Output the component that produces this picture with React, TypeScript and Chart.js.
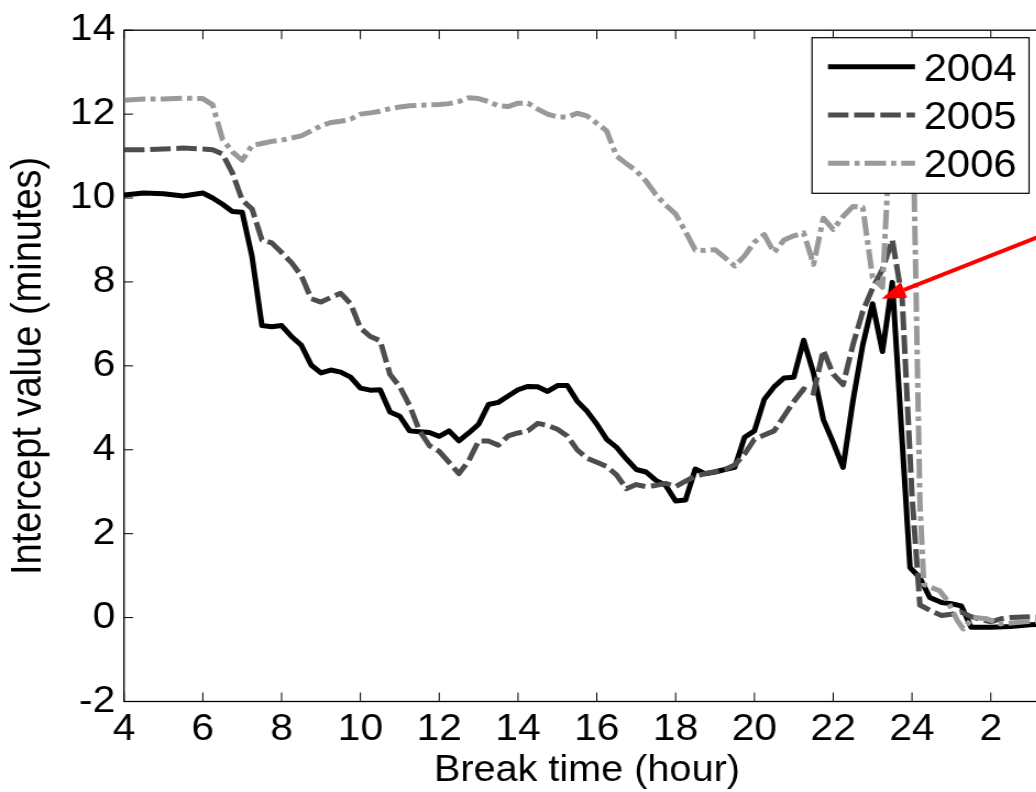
import React, { useEffect, useRef } from 'react';
import { Chart, registerables } from 'chart.js';

Chart.register(...registerables);

// ---- data ----
const HOURS_2004 = [
  4, 4.5, 5, 5.5, 6, 6.25, 6.5, 6.75, 7, 7.25,
  7.5, 7.75, 8, 8.25, 8.5, 8.75, 9, 9.25, 9.5, 9.75,
  10, 10.25, 10.5, 10.75, 11, 11.25, 11.5, 11.75, 12, 12.25,
  12.5, 12.75, 13, 13.25, 13.5, 13.75, 14, 14.25, 14.5, 14.75,
  15, 15.25, 15.5, 15.75, 16, 16.25, 16.5, 16.75, 17, 17.25,
  17.5, 17.75, 18, 18.25, 18.5, 18.75, 19, 19.25, 19.5, 19.75,
  20, 20.25, 20.5, 20.75, 21, 21.25, 21.5, 21.75, 22, 22.25,
  22.5, 22.75, 23, 23.25, 23.5, 23.95, 24.2, 24.45, 24.75, 25,
  25.25, 25.5, 25.75, 26, 26.5, 27, 27.5,
];
const VALUES_2004 = [
  10.07, 10.12, 10.1, 10.05, 10.12, 10.0, 9.85, 9.68, 9.66, 8.6,
  6.96, 6.93, 6.96, 6.7, 6.49, 6.02, 5.83, 5.9, 5.85, 5.73,
  5.47, 5.42, 5.43, 4.9, 4.8, 4.45, 4.43, 4.41, 4.32, 4.45,
  4.21, 4.4, 4.61, 5.08, 5.13, 5.28, 5.43, 5.51, 5.5, 5.39,
  5.53, 5.53, 5.16, 4.92, 4.61, 4.25, 4.06, 3.78, 3.53, 3.47,
  3.27, 3.15, 2.78, 2.8, 3.54, 3.43, 3.47, 3.53, 3.58, 4.3,
  4.45, 5.2, 5.5, 5.71, 5.73, 6.61, 5.83, 4.72, 4.17, 3.58,
  5.16, 6.5, 7.48, 6.34, 7.99, 1.19, 0.95, 0.48, 0.36, 0.33,
  0.28, -0.23, -0.23, -0.23, -0.21, -0.17, -0.15,
];

const HOURS_2005 = [
  4, 4.5, 5, 5.5, 6, 6.25, 6.5, 6.75, 7, 7.25,
  7.5, 7.75, 8, 8.25, 8.5, 8.75, 9, 9.25, 9.5, 9.75,
  10, 10.25, 10.5, 10.75, 11, 11.25, 11.5, 11.75, 12, 12.25,
  12.5, 12.75, 13, 13.25, 13.5, 13.75, 14, 14.25, 14.5, 14.75,
  15, 15.25, 15.5, 15.75, 16, 16.25, 16.5, 16.75, 17, 17.25,
  17.5, 17.75, 18, 18.25, 18.5, 18.75, 19, 19.25, 19.5, 19.75,
  20, 20.25, 20.5, 20.75, 21, 21.25, 21.5, 21.75, 22, 22.25,
  22.5, 22.75, 23, 23.25, 23.5, 23.75, 24, 24.2, 24.5, 24.75,
  25, 25.25, 25.5, 25.75, 26, 26.25, 26.5, 27, 27.5,
];
const VALUES_2005 = [
  11.15, 11.15, 11.17, 11.19, 11.17, 11.15, 11.05, 10.6, 9.95, 9.74,
  9.0, 8.93, 8.7, 8.46, 8.15, 7.6, 7.52, 7.63, 7.73, 7.48,
  6.9, 6.7, 6.6, 5.8, 5.5, 5.05, 4.45, 4.1, 3.96, 3.7,
  3.43, 3.74, 4.21, 4.21, 4.11, 4.33, 4.4, 4.45, 4.63, 4.58,
  4.49, 4.33, 4.0, 3.8, 3.7, 3.6, 3.4, 3.07, 3.17, 3.12,
  3.15, 3.2, 3.12, 3.25, 3.37, 3.43, 3.48, 3.53, 3.64, 3.9,
  4.25, 4.35, 4.45, 4.8, 5.15, 5.45, 5.35, 6.37, 5.8, 5.55,
  6.5, 7.3, 7.85, 8.3, 9.0, 7.6, 2.9, 0.3, 0.15, 0.05,
  0.08, 0.13, 0.02, -0.05, -0.1, -0.03, 0.0, 0.02, 0.02,
];

const HOURS_2006 = [
  4, 4.5, 5, 5.5, 6, 6.25, 6.5, 6.75, 7, 7.25,
  7.5, 7.75, 8, 8.25, 8.5, 8.75, 9, 9.25, 9.5, 9.75,
  10, 10.25, 10.5, 10.75, 11, 11.25, 11.5, 11.75, 12, 12.25,
  12.5, 12.75, 13, 13.25, 13.5, 13.75, 14, 14.25, 14.5, 14.75,
  15, 15.25, 15.5, 15.75, 16, 16.25, 16.5, 16.75, 17, 17.25,
  17.5, 17.75, 18, 18.25, 18.5, 18.75, 19, 19.25, 19.5, 19.75,
  20, 20.25, 20.5, 20.75, 21, 21.25, 21.5, 21.75, 22, 22.25,
  22.5, 22.75, 23, 23.25, 23.5, 23.75, 24, 24.2, 24.3, 24.7,
  24.9, 25.15, 25.3, 25.55, 25.9, 26.25, 27, 27.5,
];
const VALUES_2006 = [
  12.33, 12.36, 12.36, 12.38, 12.37, 12.22, 11.4, 11.1, 10.9, 11.25,
  11.3, 11.35, 11.38, 11.43, 11.48, 11.6, 11.72, 11.8, 11.83, 11.88,
  12.0, 12.03, 12.07, 12.13, 12.17, 12.2, 12.21, 12.22, 12.23, 12.25,
  12.3, 12.39, 12.37, 12.3, 12.2, 12.18, 12.26, 12.26, 12.12, 12.0,
  11.93, 11.93, 12.02, 11.96, 11.78, 11.6, 11.0, 10.82, 10.65, 10.4,
  10.08, 9.83, 9.62, 9.2, 8.76, 8.75, 8.77, 8.58, 8.38, 8.62,
  8.95, 9.13, 8.7, 9.0, 9.1, 9.17, 8.42, 9.52, 9.25, 9.56,
  9.8, 9.78, 8.1, 7.87, 12.5, 13.2, 13.0, 2.76, 0.79, 0.64,
  0.4, -0.07, -0.27, 0.0, -0.03, -0.15, -0.09, -0.08,
];

const SERIES_LABELS = ['2004', '2005', '2006'];
const X_TICKS = [4, 6, 8, 10, 12, 14, 16, 18, 20, 22, 24, 26];
const X_TICK_LABELS = ['4', '6', '8', '10', '12', '14', '16', '18', '20', '22', '24', '2'];
const Y_TICKS = [-2, 0, 2, 4, 6, 8, 10, 12, 14];
const Y_TICK_LABELS = ['-2', '0', '2', '4', '6', '8', '10', '12', '14'];
const X_TITLE = 'Break time (hour)';
const Y_TITLE = 'Intercept value (minutes)';
const ARROW_TIP = { x: 23.23, y: 7.6 };
const ARROW_TAIL = { x: 28.3, y: 9.48 };

// ---- drawing setup ----
const S = 1.1; // horizontal stretch of the reference picture
const CANVAS_W = 1000;
const CANVAS_H = 792;
const FONT = '"Liberation Sans", Arial, Helvetica, sans-serif';

const toPoints = (xs: number[], ys: number[]) => xs.map((x, i) => ({ x, y: ys[i] }));

const framePlugin = {
  id: 'matlabFrame',
  beforeDatasetsDraw(chart: any) {
    const { ctx, chartArea: a, scales } = chart;
    const x = scales.x;
    const y = scales.y;
    ctx.save();
    ctx.strokeStyle = '#000';
    ctx.lineWidth = 1;
    ctx.beginPath();
    for (const t of x.ticks) {
      const px = x.getPixelForValue(t.value);
      ctx.moveTo(px, a.bottom);
      ctx.lineTo(px, a.bottom - 9);
      ctx.moveTo(px, a.top);
      ctx.lineTo(px, a.top + 9);
    }
    for (const t of y.ticks) {
      const py = y.getPixelForValue(t.value);
      ctx.moveTo(a.left, py);
      ctx.lineTo(a.left + 9 / S, py);
      ctx.moveTo(a.right, py);
      ctx.lineTo(a.right - 9 / S, py);
    }
    ctx.stroke();
    ctx.lineWidth = 1.3;
    ctx.strokeRect(a.left, a.top, a.right - a.left, a.bottom - a.top);
    ctx.restore();
  },
};

const arrowPlugin = {
  id: 'redArrow',
  afterDraw(chart: any) {
    const { ctx, scales } = chart;
    const x = scales.x;
    const y = scales.y;
    const tx = x.getPixelForValue(ARROW_TIP.x) * S;
    const ty = y.getPixelForValue(ARROW_TIP.y);
    const sx = x.getPixelForValue(ARROW_TAIL.x) * S;
    const sy = y.getPixelForValue(ARROW_TAIL.y);
    ctx.save();
    ctx.scale(1 / S, 1);
    const ang = Math.atan2(ty - sy, tx - sx);
    const headLen = 24;
    const headHalf = 8.5;
    const bx = tx - headLen * Math.cos(ang);
    const by = ty - headLen * Math.sin(ang);
    ctx.strokeStyle = '#ff0000';
    ctx.lineWidth = 4;
    ctx.beginPath();
    ctx.moveTo(sx, sy);
    ctx.lineTo(bx, by);
    ctx.stroke();
    ctx.fillStyle = '#ff0000';
    ctx.beginPath();
    ctx.moveTo(tx, ty);
    ctx.lineTo(bx + headHalf * Math.sin(ang), by - headHalf * Math.cos(ang));
    ctx.lineTo(bx - headHalf * Math.sin(ang), by + headHalf * Math.cos(ang));
    ctx.closePath();
    ctx.fill();
    ctx.restore();
  },
};

const legendPlugin = {
  id: 'matlabLegend',
  afterDraw(chart: any) {
    const { ctx, chartArea: a } = chart;
    const right = a.right - 18.95;
    const left = right - 197.3;
    const top = 37.7;
    const bottom = 193.3;
    ctx.save();
    ctx.fillStyle = '#fff';
    ctx.fillRect(left, top, right - left, bottom - top);
    ctx.strokeStyle = '#000';
    ctx.lineWidth = 1.2;
    ctx.strokeRect(left, top, right - left, bottom - top);
    chart.data.datasets.forEach((ds: any, i: number) => {
      const ly = top + 29 + i * 48.3;
      ctx.setLineDash(ds.borderDash || []);
      ctx.strokeStyle = ds.borderColor;
      ctx.lineWidth = ds.borderWidth;
      ctx.lineCap = 'butt';
      ctx.beginPath();
      ctx.moveTo(left + 14.5, ly);
      ctx.lineTo(left + 93.6, ly);
      ctx.stroke();
      ctx.setLineDash([]);
      ctx.fillStyle = '#000';
      ctx.font = `38px ${FONT}`;
      ctx.textBaseline = 'alphabetic';
      ctx.textAlign = 'left';
      ctx.fillText(ds.label, left + 101.5, ly + 13.8);
    });
    ctx.restore();
  },
};

export default function App() {
  const ref = useRef<HTMLCanvasElement>(null);

  useEffect(() => {
    if (!ref.current) return;
    const chart = new Chart(ref.current, {
      type: 'line',
      data: {
        datasets: [
          {
            label: SERIES_LABELS[0],
            data: toPoints(HOURS_2004, VALUES_2004),
            borderColor: '#000000',
            borderWidth: 5,
            borderDash: [],
            order: 3,
          },
          {
            label: SERIES_LABELS[1],
            data: toPoints(HOURS_2005, VALUES_2005),
            borderColor: '#4d4d4d',
            borderWidth: 5,
            borderDash: [18.6, 5.2],
            order: 2,
          },
          {
            label: SERIES_LABELS[2],
            data: toPoints(HOURS_2006, VALUES_2006),
            borderColor: '#999999',
            borderWidth: 5,
            borderDash: [19.5, 4.6, 4.6, 4.6],
            order: 1,
          },
        ].map((d) => ({
          ...d,
          pointRadius: 0,
          pointHoverRadius: 0,
          tension: 0,
          fill: false,
          borderCapStyle: 'butt' as const,
          borderJoinStyle: 'round' as const,
        })),
      },
      options: {
        responsive: false,
        animation: false,
        events: [],
        layout: { padding: { left: 0, top: 23.5, right: CANVAS_W - 954.45, bottom: 0 } },
        plugins: {
          legend: { display: false },
          title: { display: false },
          tooltip: { enabled: false },
        },
        scales: {
          x: {
            type: 'linear',
            min: 4,
            max: 27.5,
            afterBuildTicks: (s: any) => {
              s.ticks = X_TICKS.map((v) => ({ value: v }));
            },
            afterFit: (s: any) => {
              s.height = CANVAS_H - 701.5;
            },
            grid: { display: false, drawTicks: false },
            border: { display: false },
            ticks: {
              padding: 6,
              color: '#000',
              autoSkip: false,
              maxRotation: 0,
              font: { family: FONT, size: 37 },
              callback: (v: any) => {
                const i = X_TICKS.indexOf(Number(v));
                return i >= 0 ? X_TICK_LABELS[i] : '';
              },
            },
            title: {
              display: true,
              text: X_TITLE,
              color: '#000',
              font: { family: FONT, size: 36, lineHeight: 1.14 },
              padding: { top: 0, bottom: 0 },
            },
          },
          y: {
            type: 'linear',
            min: -2,
            max: 14,
            afterBuildTicks: (s: any) => {
              s.ticks = Y_TICKS.map((v) => ({ value: v }));
            },
            afterFit: (s: any) => {
              s.width = 124 / S;
            },
            grid: { display: false, drawTicks: false },
            border: { display: false },
            ticks: {
              padding: 8,
              color: '#000',
              autoSkip: false,
              font: { family: FONT, size: 37 },
              callback: (v: any) => {
                const i = Y_TICKS.indexOf(Number(v));
                return i >= 0 ? Y_TICK_LABELS[i] : '';
              },
            },
            title: {
              display: true,
              text: Y_TITLE,
              color: '#000',
              font: { family: FONT, size: 38, lineHeight: 1.2 },
              padding: { top: 3.5, bottom: 0 },
            },
          },
        },
      } as any,
      plugins: [framePlugin, arrowPlugin, legendPlugin],
    });
    return () => chart.destroy();
  }, []);

  return (
    <div
      style={{
        position: 'fixed',
        left: 0,
        top: 0,
        width: 1036,
        height: 792,
        overflow: 'hidden',
        background: '#fff',
      }}
    >
      <canvas
        ref={ref}
        width={CANVAS_W}
        height={CANVAS_H}
        style={{ width: `${CANVAS_W * S}px`, height: `${CANVAS_H}px`, display: 'block' }}
      />
    </div>
  );
}
